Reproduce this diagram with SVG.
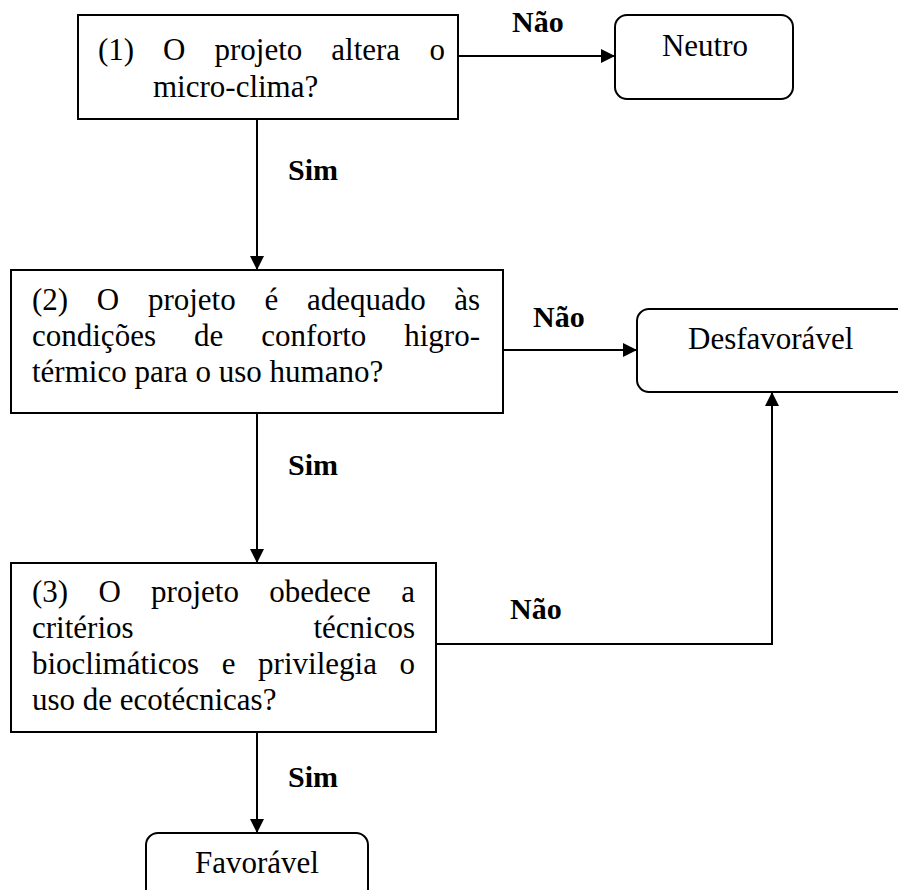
<svg xmlns="http://www.w3.org/2000/svg" width="898" height="890" viewBox="0 0 898 890">
  <style>
    .box { fill: #ffffff; stroke: #000000; stroke-width: 2; }
    .term { fill: #ffffff; stroke: #000000; stroke-width: 2; }
    .txt { font-family: "Liberation Serif", "Times New Roman", serif; font-size: 31px; fill: #000000; }
    .end { text-anchor: end; }
    .mid { text-anchor: middle; }
    .lbl { font-family: "Liberation Serif", "Times New Roman", serif; font-size: 30px; font-weight: bold; fill: #000000; }
    .wire { fill: none; stroke: #000000; stroke-width: 2; }
  </style>
  <defs>
    <marker id="arrow" markerUnits="userSpaceOnUse" markerWidth="16" markerHeight="16" refX="15" refY="8" orient="auto">
      <path d="M1,1 L15,8 L1,15 Z" fill="#000000"/>
    </marker>
  </defs>

  <rect width="898" height="890" fill="#ffffff"/>

  <!-- connectors -->
  <g id="connectors">
    <line class="wire" x1="458" y1="56" x2="615" y2="56" marker-end="url(#arrow)"/>
    <line class="wire" x1="257" y1="119" x2="257" y2="270" marker-end="url(#arrow)"/>
    <line class="wire" x1="503" y1="350" x2="637" y2="350" marker-end="url(#arrow)"/>
    <line class="wire" x1="257" y1="413" x2="257" y2="563" marker-end="url(#arrow)"/>
    <polyline class="wire" points="436,644 772,644 772,392" marker-end="url(#arrow)"/>
    <line class="wire" x1="257" y1="732" x2="257" y2="833" marker-end="url(#arrow)"/>

    <text class="lbl" x="512" y="32">Não</text>
    <text class="lbl" x="288" y="180">Sim</text>
    <text class="lbl" x="533" y="327">Não</text>
    <text class="lbl" x="288" y="475">Sim</text>
    <text class="lbl" x="510" y="619">Não</text>
    <text class="lbl" x="288" y="787">Sim</text>
  </g>

  <!-- question 1 -->
  <g id="q1">
    <rect class="box" x="78" y="15" width="380" height="104"/>
    <text class="txt" x="98" y="60">(1)</text>
    <text class="txt" x="163" y="60">O</text>
    <text class="txt" x="214.5" y="60">projeto</text>
    <text class="txt" x="331.3" y="60">altera</text>
    <text class="txt end" x="445" y="60">o</text>
    <text class="txt" x="153" y="97">micro-clima?</text>
  </g>

  <!-- outcome: neutral -->
  <g id="neutro">
    <rect class="term" x="615" y="15" width="178" height="84" rx="12" ry="12"/>
    <text class="txt mid" x="705" y="56">Neutro</text>
  </g>

  <!-- question 2 -->
  <g id="q2">
    <rect class="box" x="11" y="270" width="492" height="143"/>
    <text class="txt" x="32" y="310">(2)</text>
    <text class="txt" x="96.8" y="310">O</text>
    <text class="txt" x="147.9" y="310">projeto</text>
    <text class="txt" x="264.4" y="310">é</text>
    <text class="txt" x="306.9" y="310">adequado</text>
    <text class="txt end" x="480" y="310">às</text>
    <text class="txt" x="32" y="346">condições</text>
    <text class="txt" x="194" y="346">de</text>
    <text class="txt" x="261.3" y="346">conforto</text>
    <text class="txt end" x="480" y="346">higro-</text>
    <text class="txt" x="32" y="382">térmico para o uso humano?</text>
  </g>

  <!-- outcome: unfavourable -->
  <g id="desfavoravel">
    <rect class="term" x="637" y="309" width="275" height="83" rx="12" ry="12"/>
    <text class="txt" x="688" y="349">Desfavorável</text>
  </g>

  <!-- question 3 -->
  <g id="q3">
    <rect class="box" x="11" y="563" width="425" height="169"/>
    <text class="txt" x="32" y="602">(3)</text>
    <text class="txt" x="98.4" y="602">O</text>
    <text class="txt" x="151.1" y="602">projeto</text>
    <text class="txt" x="269.2" y="602">obedece</text>
    <text class="txt end" x="415" y="602">a</text>
    <text class="txt" x="32" y="638">critérios</text>
    <text class="txt end" x="415" y="638">técnicos</text>
    <text class="txt" x="32" y="674">bioclimáticos</text>
    <text class="txt" x="221.7" y="674">e</text>
    <text class="txt" x="258.1" y="674">privilegia</text>
    <text class="txt end" x="415" y="674">o</text>
    <text class="txt" x="32" y="710">uso de ecotécnicas?</text>
  </g>

  <!-- outcome: favourable -->
  <g id="favoravel">
    <rect class="term" x="146" y="833" width="222" height="80" rx="12" ry="12"/>
    <text class="txt mid" x="257" y="873">Favorável</text>
  </g>
</svg>
